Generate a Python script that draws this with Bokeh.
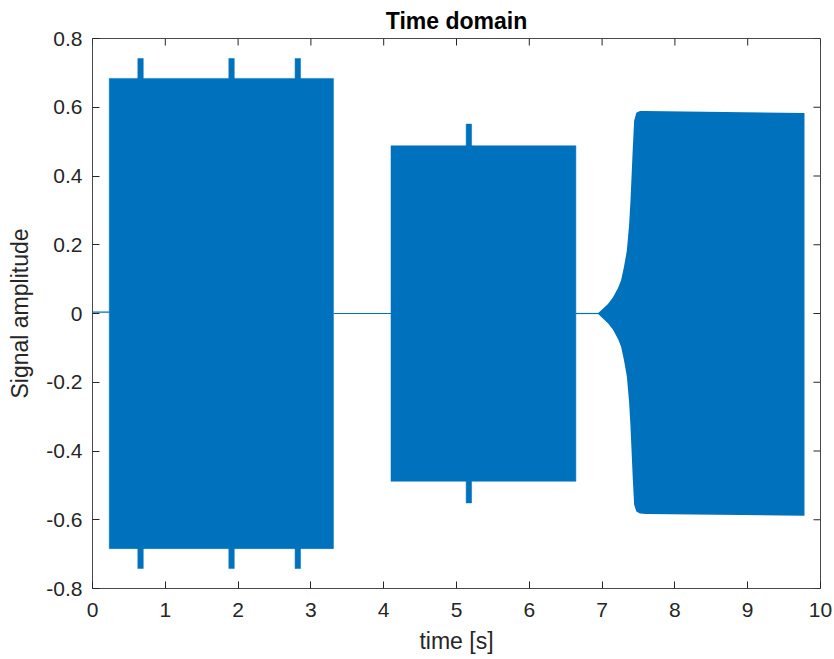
from bokeh.plotting import figure
from bokeh.models import FixedTicker, Range1d
from bokeh.embed import file_html
from bokeh.resources import INLINE

# ---- data ----
x_ticks = [0, 1, 2, 3, 4, 5, 6, 7, 8, 9, 10]
y_ticks = [-0.8, -0.6, -0.4, -0.2, 0.0, 0.2, 0.4, 0.6, 0.8]
y_tick_labels = ["-0.8", "-0.6", "-0.4", "-0.2", "0", "0.2", "0.4", "0.6", "0.8"]

# quiet stretches (near-zero signal)
gap_start = [0.0, 3.31, 6.64]
gap_end = [0.23, 4.10, 6.98]
gap_level = [0.004, 0.0, 0.0]

# constant-amplitude bursts
burst_start = [0.23, 4.10]
burst_end = [3.31, 6.64]
burst_amp = [0.684, 0.488]

# short spikes on top of bursts
spike_t = [0.66, 1.91, 2.82, 5.17]
spike_amp = [0.742, 0.742, 0.742, 0.551]

# growing (exponential onset) burst
ramp_t = [6.95, 7.00, 7.08, 7.15, 7.22, 7.26, 7.30, 7.34, 7.37, 7.39,
          7.42, 7.44, 7.47, 7.52, 7.60, 9.78]
ramp_upper = [0.002, 0.012, 0.028, 0.047, 0.075, 0.096, 0.135, 0.183, 0.255, 0.329,
              0.474, 0.561, 0.584, 0.589, 0.589, 0.583]
ramp_lower = [-0.002, -0.012, -0.028, -0.047, -0.075, -0.096, -0.135, -0.183, -0.255, -0.329,
              -0.474, -0.556, -0.576, -0.582, -0.583, -0.588]

BLUE = "#0072BD"
AX = "#262626"
FONT = "Liberation Sans"
X0, X1, Y0, Y1 = 0, 10, -0.8, 0.8

p = figure(width=834, height=659, output_backend="svg", toolbar_location=None,
           x_range=Range1d(X0, X1), y_range=Range1d(Y0, Y1),
           min_border_left=92, min_border_right=14, min_border_top=38, min_border_bottom=71,
           title="Time domain")
p.background_fill_color = "white"
p.border_fill_color = "white"
p.outline_line_color = "#4a4a4a"
p.outline_line_width = 1
p.grid.visible = False

p.title.align = "center"
p.title.text_font = FONT
p.title.text_font_size = "23px"
p.title.text_font_style = "bold"
p.title.text_color = "black"
p.title.standoff = 9

# data
p.segment(x0=gap_start, y0=gap_level, x1=gap_end, y1=gap_level, line_color=BLUE, line_width=1.2)
p.quad(left=burst_start, right=burst_end, top=burst_amp, bottom=[-a for a in burst_amp],
       fill_color=BLUE, line_color=BLUE, line_width=0.5)
p.vbar(x=spike_t, top=spike_amp, bottom=[-a for a in spike_amp], width=0.075,
       fill_color=BLUE, line_color=BLUE, line_width=0.5)
p.varea(x=ramp_t, y1=ramp_lower, y2=ramp_upper, fill_color=BLUE)

# inward ticks on the top and right edges of the box (MATLAB "box on")
TICK_LEN_Y = 7 / 343.75 * (Y1 - Y0) / 1.6   # ~7 px in data units
TICK_LEN_X = 7 / 72.7 * (X1 - X0) / 10       # ~7 px in data units
p.segment(x0=x_ticks, y0=[Y1] * len(x_ticks), x1=x_ticks, y1=[Y1 - TICK_LEN_Y] * len(x_ticks),
          line_color=AX, line_width=1)
p.segment(x0=[X1] * len(y_ticks), y0=y_ticks, x1=[X1 - TICK_LEN_X] * len(y_ticks), y1=y_ticks,
          line_color=AX, line_width=1)

def style_axis(ax):
    ax.axis_line_color = None
    ax.major_tick_in = 7
    ax.major_tick_out = 0
    ax.major_tick_line_color = AX
    ax.major_tick_line_width = 1
    ax.minor_tick_line_color = None
    ax.major_label_text_font = FONT
    ax.major_label_text_font_size = "21px"
    ax.major_label_text_color = AX
    ax.axis_label_text_font = FONT
    ax.axis_label_text_font_size = "23px"
    ax.axis_label_text_font_style = "normal"
    ax.axis_label_text_color = AX

xa = p.xaxis[0]
xa.ticker = FixedTicker(ticks=x_ticks)
xa.axis_label = "time [s]"
style_axis(xa)
xa.major_label_standoff = 14
xa.axis_label_standoff = 8

ya = p.yaxis[0]
ya.ticker = FixedTicker(ticks=y_ticks)
ya.major_label_overrides = {t: l for t, l in zip(y_ticks, y_tick_labels)}
ya.axis_label = "Signal amplitude"
style_axis(ya)
ya.major_label_standoff = 10
ya.axis_label_standoff = 10

open("out.html", "w").write(file_html(p, INLINE))
